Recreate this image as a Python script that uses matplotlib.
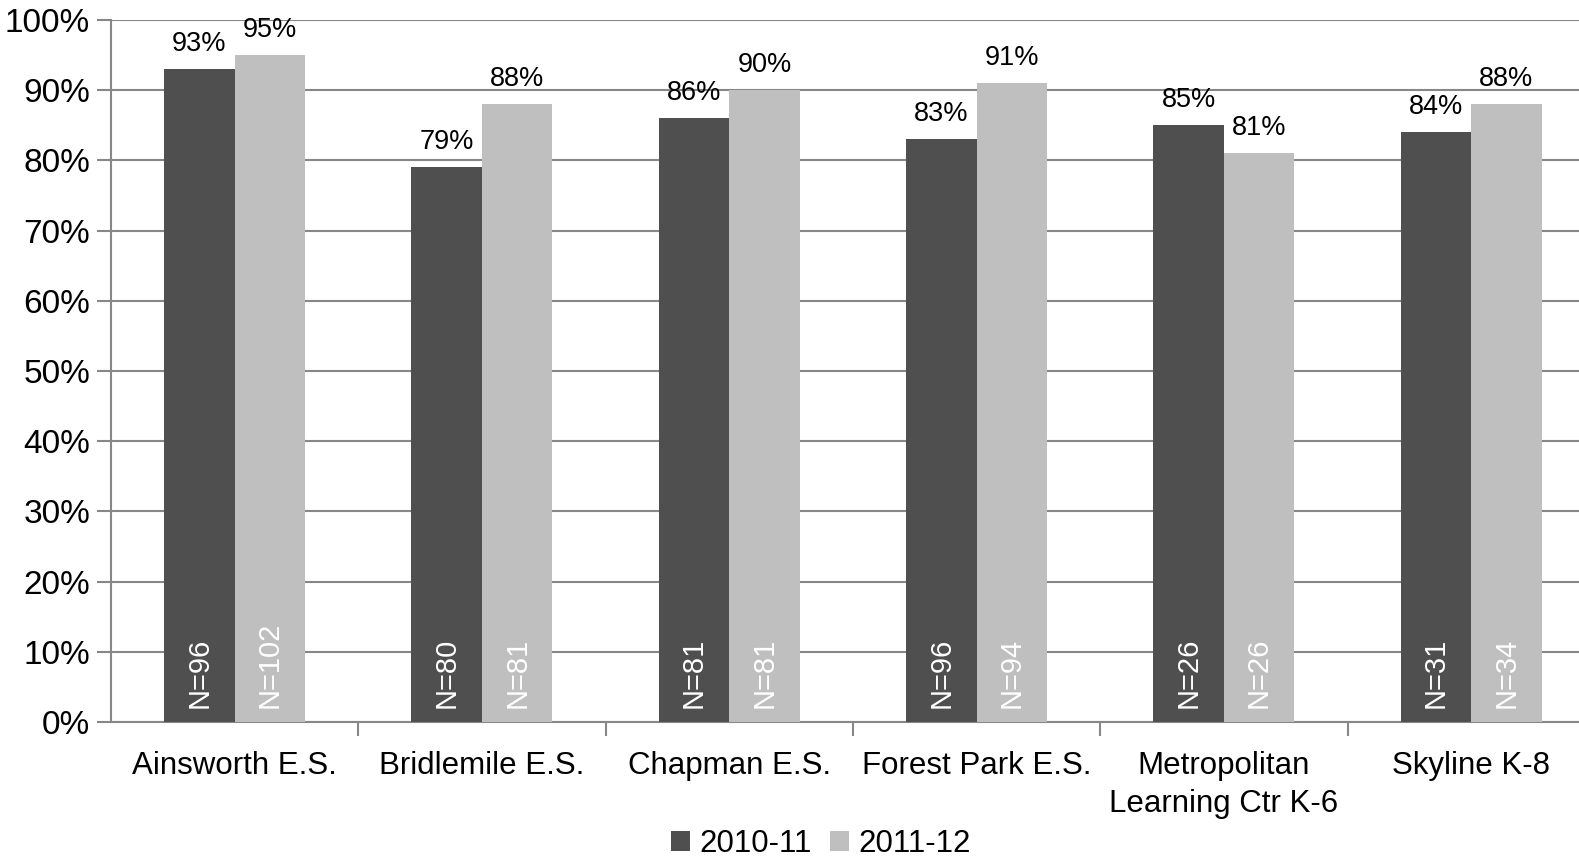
import matplotlib
matplotlib.use("agg")
import matplotlib.pyplot as plt
import numpy as np

schools = ["Ainsworth E.S.", "Bridlemile E.S.", "Chapman E.S.", "Forest Park E.S.",
           "Metropolitan\nLearning Ctr K-6", "Skyline K-8"]
pct_1011 = [93, 79, 86, 83, 85, 84]
pct_1112 = [95, 88, 90, 91, 81, 88]
n_1011 = [96, 80, 81, 96, 26, 31]
n_1112 = [102, 81, 81, 94, 26, 34]
years = ["2010-11", "2011-12"]

dark = '#4f4f4f'
light = '#bfbfbf'
grid = '#878787'

plt.rcParams['font.family'] = ['Liberation Sans', 'DejaVu Sans']

fig = plt.figure(figsize=(15.79, 8.59), dpi=100)
ax = fig.add_axes([0.0703, 0.1595, 0.9297, 0.8171])

x = np.arange(len(schools))
w = 0.285
b1 = ax.bar(x - w / 2, pct_1011, w, color=dark, label=years[0], zorder=3)
b2 = ax.bar(x + w / 2, pct_1112, w, color=light, label=years[1], zorder=3)

# percent labels above bars
for bars, vals in ((b1, pct_1011), (b2, pct_1112)):
    for r, v in zip(bars, vals):
        ax.annotate("%d%%" % v, (r.get_x() + r.get_width() / 2, v),
                    xytext=(0, 9), textcoords='offset points',
                    ha='center', va='bottom', fontsize=19.5, color='black')

# N counts inside bars, rotated
for bars, ns in ((b1, n_1011), (b2, n_1112)):
    for r, n in zip(bars, ns):
        ax.annotate("N=%d" % n, (r.get_x() + r.get_width() / 2, 0),
                    xytext=(0, 10), textcoords='offset points',
                    ha='center', va='bottom', rotation=90,
                    fontsize=21, color='white', zorder=4)

ax.set_ylim(0, 100)
ax.set_xlim(-0.5, -0.5 + (1579 - 111) / 247.3)
ax.set_yticks(range(0, 101, 10))
ax.set_yticklabels(["%d%%" % t for t in range(0, 101, 10)], fontsize=24)
ax.yaxis.grid(True, color=grid, linewidth=1.5, zorder=0)

ax.set_xticks(x)
ax.set_xticklabels(schools, fontsize=22.5, linespacing=1.35)
ax.set_xticks(np.arange(0.5, 5.5, 1), minor=True)
ax.tick_params(axis='x', which='major', length=0, pad=21)
ax.tick_params(axis='x', which='minor', length=10, width=1.5, color=grid, direction='out')
ax.tick_params(axis='y', length=10, width=1.5, color=grid, direction='out', pad=5)

for s in ('top', 'right'):
    ax.spines[s].set_visible(False)
for s in ('left', 'bottom'):
    ax.spines[s].set_color(grid)
    ax.spines[s].set_linewidth(1.5)

fig.legend(loc='center', bbox_to_anchor=(0.52, 0.017), ncol=2, frameon=False,
           fontsize=22.5, handlelength=0.6, handleheight=0.6, handletextpad=0.3,
           columnspacing=0.6)

plt.savefig('out.png', dpi=100)
